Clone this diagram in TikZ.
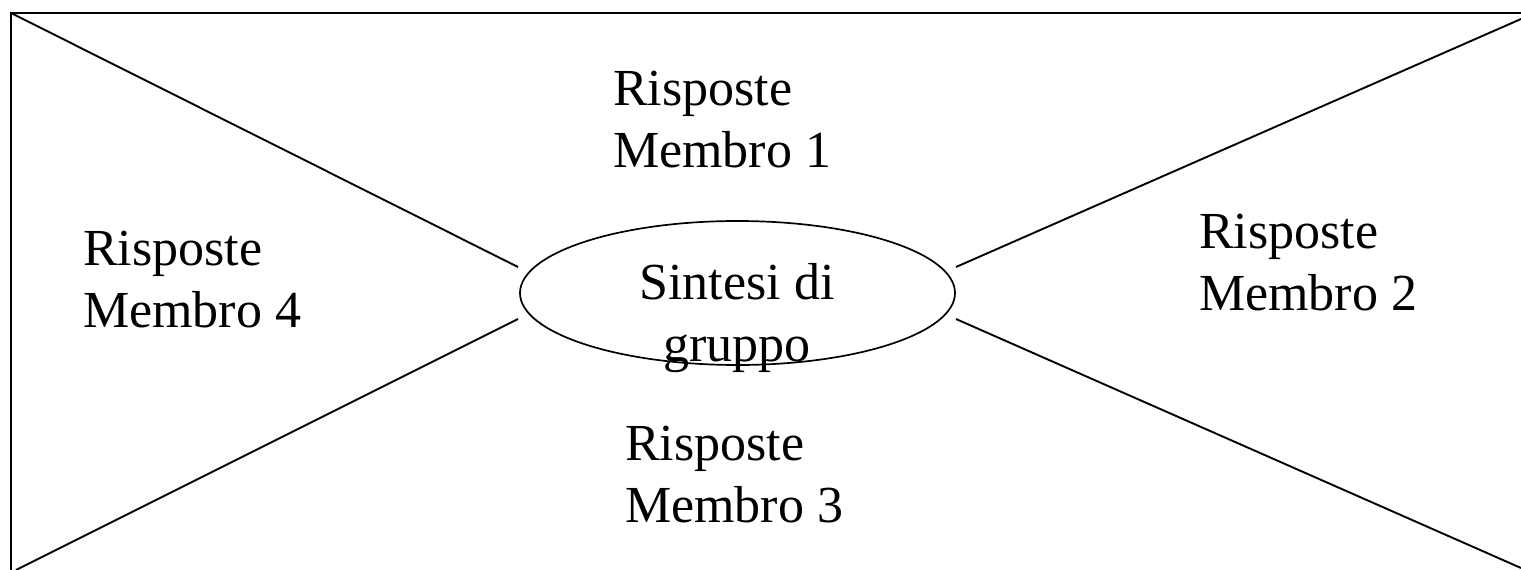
\documentclass[tikz,border=0pt]{standalone}
\usepackage{fontspec}
\setmainfont{Liberation Serif}
\usetikzlibrary{shapes.geometric}
\begin{document}
\begin{tikzpicture}[x=1pt,y=-1pt,
  ln/.style={line width=1.9pt},
  lbl/.style={anchor=base west,inner sep=0pt,align=left,font=\fontsize{52}{62}\selectfont},
  ctr/.style={anchor=base,inner sep=0pt,align=center,font=\fontsize{52}{62}\selectfont}]
\useasboundingbox (0,0) rectangle (1521,570);
\clip (0,0) rectangle (1521,570);
% frame (top and left edges visible)
\coordinate (tl) at (11,13);
\coordinate (trf) at (1525,13);
\coordinate (blf) at (11,575);
\draw[ln] (trf) -- (tl) -- (blf);
% ellipse
\node[ellipse,draw,line width=1.7pt,minimum width=435pt,minimum height=144pt,inner sep=0pt] (ell) at (737.5,293) {};
% connector end points near ellipse
\coordinate (eTL) at (518,267);
\coordinate (eBL) at (518,319);
\coordinate (eTR) at (956,267);
\coordinate (eBR) at (956,319);
\coordinate (cTR) at (1521,19);
\coordinate (cBL) at (16,570);
\coordinate (cBR) at (1521,568);
\draw[ln] (tl) -- (eTL);
\draw[ln] (cBL) -- (eBL);
\draw[ln] (cTR) -- (eTR);
\draw[ln] (cBR) -- (eBR);
% texts (anchor = baseline of last line)
\node[ctr] (sint) at (737,361) {Sintesi di\\gruppo};
\node[lbl] (m1) at (613,167) {Risposte\\Membro 1};
\node[lbl] (m2) at (1199,310) {Risposte\\Membro 2};
\node[lbl] (m3) at (625,522) {Risposte\\Membro 3};
\node[lbl] (m4) at (83,327) {Risposte\\Membro 4};
\end{tikzpicture}
\end{document}
